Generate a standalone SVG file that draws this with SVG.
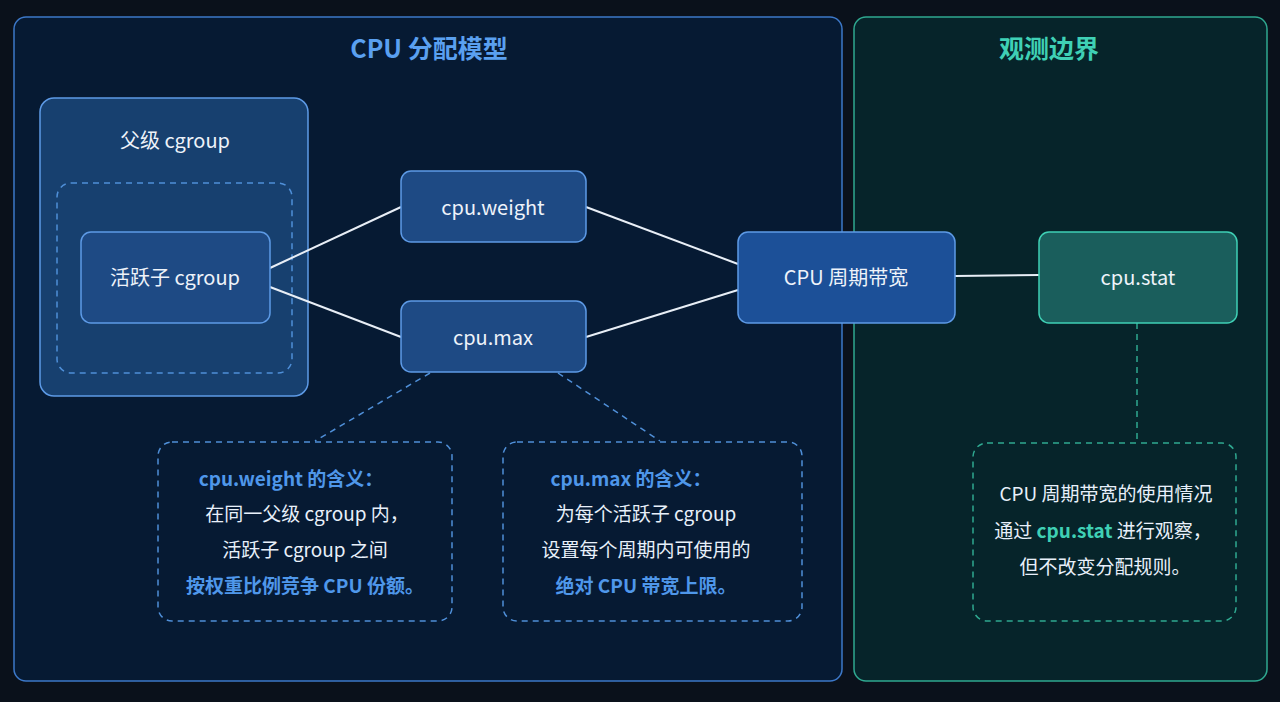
<svg xmlns="http://www.w3.org/2000/svg" width="1280" height="702" viewBox="0 0 1280 702">
<style>
text{font-family:"Noto Sans CJK SC","Noto Sans",sans-serif;text-anchor:middle;dominant-baseline:central}
.w{fill:#eef3fa;font-size:20px}
.b{fill:#4f97ea;font-weight:bold;font-size:19px}
.t{fill:#e8f0fa;font-size:19px}
.tg{fill:#3fd0b5;font-weight:bold;font-size:19px}
.node{fill:#1e4a84;stroke:#5d9ae6;stroke-width:1.5}
.dash{fill:none;stroke:#4f8fd8;stroke-width:1.5;stroke-dasharray:6 5}
.line{stroke:#e8eef6;stroke-width:2;fill:none}
</style>
<rect width="1280" height="702" fill="#0a111b"/>
<g id="left-panel"><rect x="14" y="17" width="828" height="664" rx="12" fill="#061a33" stroke="#3c78c8" stroke-width="1.5"/>
<text x="429" y="47" style="fill:#5aa0f0;font-size:25px;font-weight:bold">CPU 分配模型</text></g>
<g id="right-panel"><rect x="854" y="17" width="413" height="664" rx="12" fill="#06242a" stroke="#2fa890" stroke-width="1.5"/>
<text x="1049" y="47" style="fill:#3fd0b5;font-size:25px;font-weight:bold">观测边界</text></g>
<g id="parent"><rect x="40" y="98" width="268" height="298" rx="14" fill="#17406f" stroke="#5d9ae6" stroke-width="1.5"/>
<text class="w" x="175" y="139">父级 cgroup</text>
<rect class="dash" x="57" y="183" width="235" height="190" rx="14"/></g>
<g id="connectors">
<line class="line" x1="270" y1="268" x2="401" y2="207"/>
<line class="line" x1="270" y1="287" x2="401" y2="337"/>
<line class="line" x1="586" y1="207" x2="738" y2="264"/>
<line class="line" x1="586" y1="337" x2="738" y2="290"/>
<line class="line" x1="955" y1="276" x2="1039" y2="275"/>
<line class="dash" x1="430" y1="373" x2="315" y2="441"/>
<line class="dash" x1="558" y1="373" x2="660" y2="441"/>
<line style="stroke:#2fa890;stroke-width:1.5;stroke-dasharray:6 5" x1="1137" y1="323" x2="1137" y2="443"/>
</g>
<g id="active"><rect class="node" x="81" y="232" width="189" height="91" rx="10" fill="#2a5fa8"/><text class="w" x="175" y="276">活跃子 cgroup</text></g>
<g id="weight"><rect class="node" x="401" y="171" width="185" height="71" rx="10"/><text class="w" x="493" y="206">cpu.weight</text></g>
<g id="max"><rect class="node" x="401" y="301" width="185" height="71" rx="10"/><text class="w" x="493" y="336">cpu.max</text></g>
<g id="bw"><rect class="node" x="738" y="232" width="217" height="91" rx="10" style="fill:#1c5098"/><text class="w" x="846" y="276">CPU 周期带宽</text></g>
<g id="stat"><rect x="1039" y="232" width="198" height="91" rx="10" fill="#1a5e5c" stroke="#3fd0b5" stroke-width="1.5"/><text class="w" x="1138" y="276">cpu.stat</text></g>
<g id="note1"><rect class="dash" x="158" y="442" width="294" height="179" rx="14"/>
<text class="b" x="291" y="477">cpu.weight 的含义：</text>
<text class="t" x="307" y="512">在同一父级 cgroup 内，</text>
<text class="t" x="305" y="548">活跃子 cgroup 之间</text>
<text class="b" x="305" y="584">按权重比例竞争 CPU 份额。</text></g>
<g id="note2"><rect class="dash" x="503" y="442" width="299" height="179" rx="14"/>
<text class="b" x="631" y="477">cpu.max 的含义：</text>
<text class="t" x="646" y="512">为每个活跃子 cgroup</text>
<text class="t" x="646" y="548">设置每个周期内可使用的</text>
<text class="b" x="646" y="584">绝对 CPU 带宽上限。</text></g>
<g id="note3"><rect x="973" y="443" width="263" height="178" rx="14" fill="none" stroke="#2fa890" stroke-width="1.5" stroke-dasharray="6 5"/>
<text class="t" x="1106" y="492">CPU 周期带宽的使用情况</text>
<text class="t" x="1103" y="529">通过 <tspan class="tg">cpu.stat</tspan> 进行观察，</text>
<text class="t" x="1105" y="565">但不改变分配规则。</text></g>
</svg>
